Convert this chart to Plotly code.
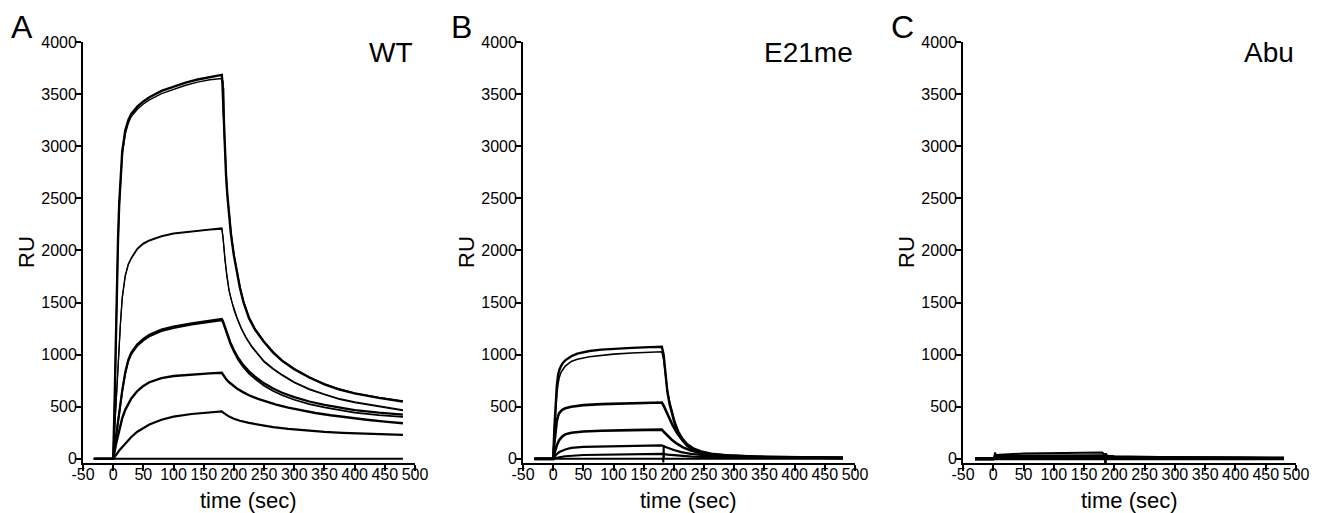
import plotly.graph_objects as go

FONT = "Liberation Sans, Arial, Helvetica, sans-serif"
W, H = 1321, 513

# ---------------- data (time in sec, response in RU) ----------------
x_ticks = [-50, 0, 50, 100, 150, 200, 250, 300, 350, 400, 450, 500]
y_ticks = [0, 500, 1000, 1500, 2000, 2500, 3000, 3500, 4000]

# Panel A : WT
WT_1 = [(-32, 0), (0, 0), (2, 450), (4, 1100), (6, 1650), (8, 2100), (10, 2450), (12, 2700), (15, 2950),
        (20, 3150), (25, 3250), (30, 3310), (40, 3380), (50, 3430), (60, 3470), (80, 3530), (100, 3570),
        (120, 3610), (140, 3640), (160, 3665), (180, 3685), (181, 3600), (183, 3250), (185, 2950),
        (187, 2720), (189, 2540), (192, 2330), (195, 2160), (200, 1950), (205, 1780), (210, 1640),
        (216, 1500), (225, 1350), (235, 1240), (250, 1120), (265, 1020), (280, 940), (300, 860),
        (325, 780), (350, 715), (375, 665), (400, 628), (440, 585), (480, 550)]
WT_2 = [(-32, 0), (0, 0), (2, 430), (4, 1070), (6, 1620), (8, 2070), (10, 2420), (12, 2670), (15, 2920),
        (20, 3120), (25, 3220), (30, 3285), (40, 3355), (50, 3405), (60, 3445), (80, 3505), (100, 3545),
        (120, 3585), (140, 3615), (160, 3638), (180, 3650), (182, 3620), (182.5, 3280), (183, 3560),
        (184, 3120), (186, 2850), (188, 2640), (190, 2480), (193, 2290), (196, 2130), (200, 1960),
        (205, 1790), (210, 1650), (216, 1510), (225, 1360), (235, 1248), (250, 1127), (265, 1027),
        (280, 946), (300, 865), (325, 785), (350, 719), (375, 669), (400, 631), (440, 588), (480, 553)]
WT_3 = [(-32, 0), (0, 0), (3, 350), (6, 700), (9, 1000), (12, 1300), (15, 1550), (20, 1760), (25, 1870),
        (30, 1930), (40, 2020), (50, 2070), (60, 2100), (80, 2140), (100, 2165), (130, 2185), (160, 2205),
        (180, 2215), (182, 2120), (185, 1900), (188, 1760), (192, 1610), (196, 1510), (200, 1430),
        (205, 1350), (212, 1250), (220, 1160), (230, 1070), (240, 1000), (250, 930), (265, 860),
        (280, 800), (300, 730), (325, 665), (350, 615), (375, 570), (400, 540), (440, 498), (480, 463)]
WT_4 = [(-32, 0), (0, 0), (3, 340), (6, 690), (9, 990), (12, 1290), (15, 1540), (20, 1750), (25, 1860),
        (30, 1920), (40, 2010), (50, 2060), (60, 2092), (80, 2132), (100, 2158), (130, 2180), (160, 2198),
        (180, 2205), (182, 2125), (185, 1910), (188, 1770), (192, 1620), (196, 1520), (200, 1440),
        (205, 1360), (212, 1258), (220, 1168), (230, 1078), (240, 1008), (250, 938), (265, 868),
        (280, 808), (300, 738), (325, 672), (350, 622), (375, 577), (400, 547), (440, 505), (480, 470)]
WT_5 = [(-32, 0), (0, 0), (5, 230), (10, 460), (15, 660), (20, 830), (25, 950), (30, 1020), (40, 1100),
        (50, 1150), (60, 1190), (80, 1240), (100, 1270), (130, 1300), (160, 1328), (180, 1342),
        (182, 1320), (185, 1270), (189, 1200), (194, 1120), (200, 1045), (207, 970), (215, 905),
        (225, 840), (235, 790), (250, 725), (265, 675), (280, 635), (300, 592), (325, 550), (350, 518),
        (375, 490), (400, 468), (440, 443), (480, 425)]
WT_6 = [(-32, 0), (0, 0), (5, 220), (10, 445), (15, 645), (20, 815), (25, 935), (30, 1005), (40, 1085),
        (50, 1135), (60, 1175), (80, 1225), (100, 1255), (130, 1288), (160, 1315), (180, 1330),
        (182, 1306), (185, 1255), (189, 1184), (194, 1103), (200, 1027), (207, 951), (215, 885),
        (225, 819), (235, 768), (250, 702), (265, 651), (280, 610), (300, 567), (325, 525), (350, 493),
        (375, 465), (400, 444), (440, 420), (480, 402)]
WT_7 = [(-32, 0), (0, 0), (5, 150), (10, 280), (15, 390), (20, 470), (30, 580), (40, 650), (50, 700),
        (60, 735), (80, 775), (100, 795), (130, 810), (160, 820), (180, 826), (183, 795), (187, 765),
        (192, 735), (198, 705), (205, 675), (215, 640), (225, 610), (240, 575), (255, 545), (270, 520),
        (290, 492), (310, 468), (335, 440), (360, 418), (390, 395), (420, 375), (450, 357), (480, 342)]
WT_8 = [(-32, 0), (0, 0), (10, 80), (20, 150), (30, 210), (40, 260), (60, 330), (80, 375), (100, 405),
        (130, 430), (160, 448), (180, 456), (183, 440), (187, 422), (192, 405), (200, 385), (210, 365),
        (225, 345), (245, 322), (265, 304), (290, 287), (320, 270), (350, 258), (380, 249), (420, 240),
        (450, 235), (480, 230)]
WT_0 = [(-32, 0), (480, 0)]

# Panel B : E21me
E21_1 = [(-31, 0), (0, 0), (2, 300), (4, 550), (6, 700), (8, 800), (10, 850), (13, 890), (16, 920), (20, 945),
         (30, 985), (40, 1010), (60, 1035), (80, 1048), (100, 1056), (130, 1065), (160, 1072), (180, 1076),
         (183, 1000), (186, 820), (189, 650), (193, 520), (197, 420), (202, 320), (208, 230), (215, 170),
         (222, 125), (230, 90), (240, 65), (255, 45), (275, 32), (300, 24), (350, 17), (400, 13), (480, 10)]
E21_2 = [(-31, 0), (0, 0), (2, 250), (4, 480), (6, 620), (8, 720), (10, 780), (13, 830), (16, 860), (20, 890),
         (30, 935), (40, 955), (60, 980), (80, 995), (100, 1005), (130, 1015), (160, 1022), (180, 1027),
         (183, 955), (186, 805), (189, 665), (193, 545), (197, 445), (202, 350), (208, 262), (215, 192),
         (222, 142), (230, 102), (240, 73), (255, 50), (275, 35), (300, 26), (350, 18), (400, 14), (480, 10)]
E21_3 = [(-31, 0), (0, 0), (2, 150), (4, 280), (6, 360), (8, 410), (10, 440), (15, 470), (20, 485), (30, 500),
         (50, 515), (80, 525), (120, 533), (180, 540), (183, 510), (187, 460), (192, 390), (198, 320),
         (205, 250), (213, 190), (222, 140), (232, 100), (245, 70), (262, 48), (285, 33), (310, 25),
         (350, 18), (400, 13), (480, 9)]
E21_4 = [(-31, 0), (0, 0), (3, 70), (6, 130), (10, 180), (15, 215), (20, 235), (30, 250), (50, 262), (80, 270),
         (130, 275), (180, 280), (184, 255), (190, 220), (197, 180), (205, 145), (215, 110), (228, 80),
         (245, 57), (265, 42), (290, 31), (330, 22), (400, 14), (480, 9)]
E21_5 = [(-31, 0), (0, 0), (5, 40), (10, 65), (20, 90), (30, 105), (50, 115), (100, 123), (180, 130),
         (185, 115), (192, 100), (200, 85), (212, 65), (228, 48), (250, 35), (280, 25), (330, 17),
         (400, 12), (480, 8)]
E21_6 = [(-31, 0), (0, 0), (10, 15), (20, 25), (50, 37), (100, 43), (180, 48), (190, 40), (205, 32),
         (230, 22), (270, 15), (330, 10), (400, 8), (480, 6)]
E21_0 = [(-31, 0), (182, 0), (182.5, -35), (183, 130), (183.5, 0), (480, 0)]

# Panel C : Abu
Abu_1 = [(-30, 0), (0, 0), (2, 20), (3, 62), (4, 35), (10, 40), (50, 50), (100, 55), (150, 58), (180, 60),
         (183, 42), (190, 30), (200, 25), (250, 18), (300, 15), (400, 12), (480, 10)]
Abu_2 = [(-30, 0), (0, 0), (3, 30), (10, 25), (50, 28), (100, 30), (180, 32), (185, 22), (200, 18),
         (250, 14), (300, 12), (400, 10), (480, 8)]
Abu_3 = [(-30, 0), (0, 0), (5, 15), (50, 18), (180, 20), (185, 14), (250, 10), (480, 6)]
Abu_4 = [(-30, 0), (0, 0), (5, 8), (180, 10), (190, 6), (480, 3)]
Abu_0 = [(-30, 0), (185, 0), (185.3, -45), (185.6, 55), (186, 0), (480, 0)]

panels = [
    ("A", "WT", [(WT_1, 2.4), (WT_2, 1.4), (WT_3, 1.3), (WT_4, 1.2), (WT_5, 2.2), (WT_6, 1.8),
                 (WT_7, 2.4), (WT_8, 2.2), (WT_0, 2.0)]),
    ("B", "E21me", [(E21_1, 2.4), (E21_2, 1.6), (E21_3, 2.6), (E21_4, 2.6), (E21_5, 2.2), (E21_6, 2.2),
                    (E21_0, 2.0)]),
    ("C", "Abu", [(Abu_1, 2.0), (Abu_2, 2.6), (Abu_3, 3.0), (Abu_4, 3.0), (Abu_0, 2.6)]),
]

# ---------------- layout geometry (pixels) ----------------
x_left = [83, 523, 963]
x_right = [415, 855, 1296]
y_top, y_bot = 42, 463

fig = go.Figure()
annotations = []
for i, (letter, name, traces) in enumerate(panels):
    ax = "" if i == 0 else str(i + 1)
    for pts, lw in traces:
        fig.add_trace(go.Scatter(
            x=[p[0] for p in pts], y=[p[1] for p in pts], mode="lines",
            line=dict(color="black", width=lw), xaxis="x" + ax, yaxis="y" + ax,
            showlegend=False, hoverinfo="skip"))
    common = dict(showline=True, linecolor="black", linewidth=1.8, ticks="outside", ticklen=6,
                  tickwidth=1.6, tickcolor="black", showgrid=False, zeroline=False, automargin=False,
                  tickfont=dict(family=FONT, size=16, color="black"), tickangle=0, fixedrange=True)
    fig.update_layout(**{
        "xaxis" + ax: dict(domain=[x_left[i] / W, x_right[i] / W], range=[-50, 500],
                           tickmode="array", tickvals=x_ticks, ticktext=[str(v) for v in x_ticks],
                           anchor="y" + ax, ticklabelstandoff=-10, **common),
        "yaxis" + ax: dict(domain=[1 - y_bot / H, 1 - y_top / H], range=[-40, 4000],
                           tickmode="array", tickvals=y_ticks, ticktext=[str(v) for v in y_ticks],
                           anchor="x" + ax, ticklabelstandoff=-5, **common),
    })
    # panel letter
    annotations.append(dict(text=letter, x=(x_left[i] - 74) / W, y=1 - 27 / H, xref="paper", yref="paper",
                            xanchor="left", yanchor="middle", showarrow=False,
                            font=dict(family=FONT, size=32, color="black")))
    # sample name
    annotations.append(dict(text=name, x=x_right[i] / W, y=1 - 52 / H, xref="paper", yref="paper",
                            xanchor="right", yanchor="middle", showarrow=False,
                            font=dict(family=FONT, size=28, color="black")))
    # y title
    annotations.append(dict(text="RU", x=(x_left[i] - 57) / W, y=1 - 252 / H, xref="paper", yref="paper",
                            xanchor="center", yanchor="middle", showarrow=False, textangle=-90,
                            font=dict(family=FONT, size=22, color="black")))
    # x title
    annotations.append(dict(text="time (sec)", x=(x_left[i] + x_right[i]) / 2 / W, y=1 - 500.5 / H,
                            xref="paper", yref="paper", xanchor="center", yanchor="middle",
                            showarrow=False, font=dict(family=FONT, size=22, color="black")))

fig.update_layout(width=W, height=H, margin=dict(l=0, r=0, t=0, b=0, autoexpand=False),
                  paper_bgcolor="white", plot_bgcolor="white", annotations=annotations,
                  font=dict(family=FONT, color="black"))
fig.write_html("out.html", config={"displayModeBar": False},
               post_script="document.body.style.margin='0';document.body.style.overflow='hidden';")
